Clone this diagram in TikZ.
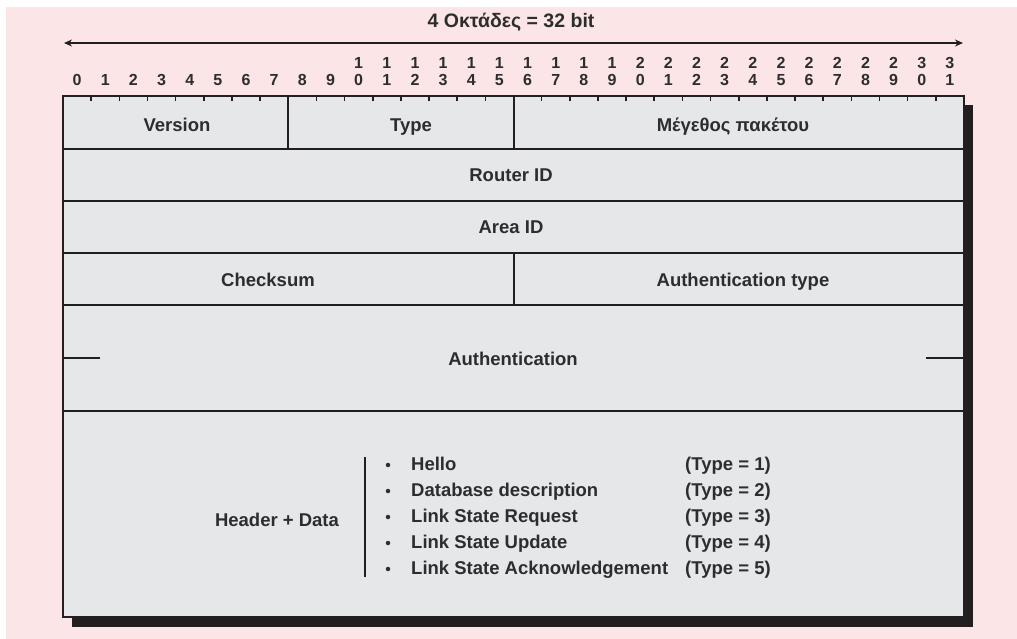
\documentclass[tikz,border=0pt]{standalone}
\usepackage{fontspec}
\setmainfont{Liberation Sans}
\usetikzlibrary{arrows.meta}
\definecolor{bgpink}{RGB}{251,229,230}
\definecolor{cellgray}{RGB}{230,231,233}
\definecolor{ink}{RGB}{35,31,32}
\definecolor{txt}{RGB}{45,45,45}
\begin{document}
\begin{tikzpicture}[x=1pt,y=-1pt,
  lbl/.style={font=\fontsize{18.5}{22}\selectfont\bfseries, text=txt, inner sep=0pt,
    text height=13pt, text depth=0pt},
  ttl/.style={lbl, font=\fontsize{19.5}{22}\selectfont\bfseries, text height=14pt},
  bitnum/.style={font=\fontsize{16}{18}\selectfont\bfseries, text=txt, inner sep=0pt,
    text height=11.5pt, text depth=0pt},
  item/.style={lbl, anchor=west},
  bullet/.style={circle, fill=txt, inner sep=0pt, minimum size=4.5pt},
  rule/.style={draw=ink, line width=2pt},
  frame/.style={draw=ink, line width=2.6pt, fill=cellgray},
  tick/.style={draw=ink, line width=1.6pt}]
% page and background
\useasboundingbox (0,0) rectangle (1017,639);
\fill[white] (0,0) rectangle (1017,639);
\fill[bgpink] (6,7) rectangle (1017,639);

% title and width arrow
\node[ttl] (title) at (511,21) {4 Οκτάδες = 32 bit};
\coordinate (wl) at (64,43);
\coordinate (wr) at (963,43);
\draw[draw=ink, line width=2.2pt, {Stealth[length=8pt,width=7pt]}-{Stealth[length=8pt,width=7pt]}] (wl) -- (wr);

% bit numbers
\foreach \i in {0,...,31}{
  \pgfmathsetmacro{\cx}{63+28.156*(\i+0.5)}
  \pgfmathtruncatemacro{\tens}{\i/10}
  \pgfmathtruncatemacro{\ones}{\i-10*\tens}
  \node[bitnum] (b\i) at (\cx,80) {\ones};
  \ifnum\i>9 \node[bitnum] (t\i) at (\cx,63) {\tens}; \fi
}

% shadow and frame
\fill[ink] (72,105) rectangle (973,627);
\draw[frame] (63,96) rectangle (964,617);

% ticks along the top edge
\foreach \i in {1,...,31}{
  \pgfmathsetmacro{\tx}{63+28.156*\i}
  \draw[tick] (\tx,96) -- (\tx,101);
}

% row separators
\foreach \yy in {149,201,253,305,411}{
  \draw[rule] (63,\yy) -- (964,\yy);
}
% column separators
\draw[rule] (288.2,96) -- (288.2,149);
\draw[rule] (513.5,96) -- (513.5,149);
\draw[rule] (513.5,253) -- (513.5,305);
% authentication continuation marks
\draw[rule] (63,358) -- (100,358);
\draw[rule] (926,358) -- (964,358);

% field labels
\node[lbl] (version) at (177,125) {Version};
\node[lbl] (type) at (411,125) {Type};
\node[lbl] (length) at (733,125) {Μέγεθος πακέτου};
\node[lbl] (router) at (511,175) {Router ID};
\node[lbl] (area) at (511,227) {Area ID};
\node[lbl] (checksum) at (268,280) {Checksum};
\node[lbl] (authtype) at (743,280) {Authentication type};
\node[lbl] (auth) at (513,359) {Authentication};
\node[lbl] (hdr) at (277,520) {Header + Data};

% packet type list
\draw[draw=ink, line width=1.6pt] (365,457) -- (365,577);
\foreach \n/\yy/\name/\t in {1/464/Hello/1, 2/490/Database description/2, 3/516/Link State Request/3, 4/542/Link State Update/4, 5/568/Link State Acknowledgement/5}{
  \node[bullet] (dot\n) at (388,\yy+1) {};
  \node[item] (it\n) at (411,\yy) {\name};
  \node[item] (ty\n) at (685,\yy) {(Type = \t)};
}
\end{tikzpicture}
\end{document}
